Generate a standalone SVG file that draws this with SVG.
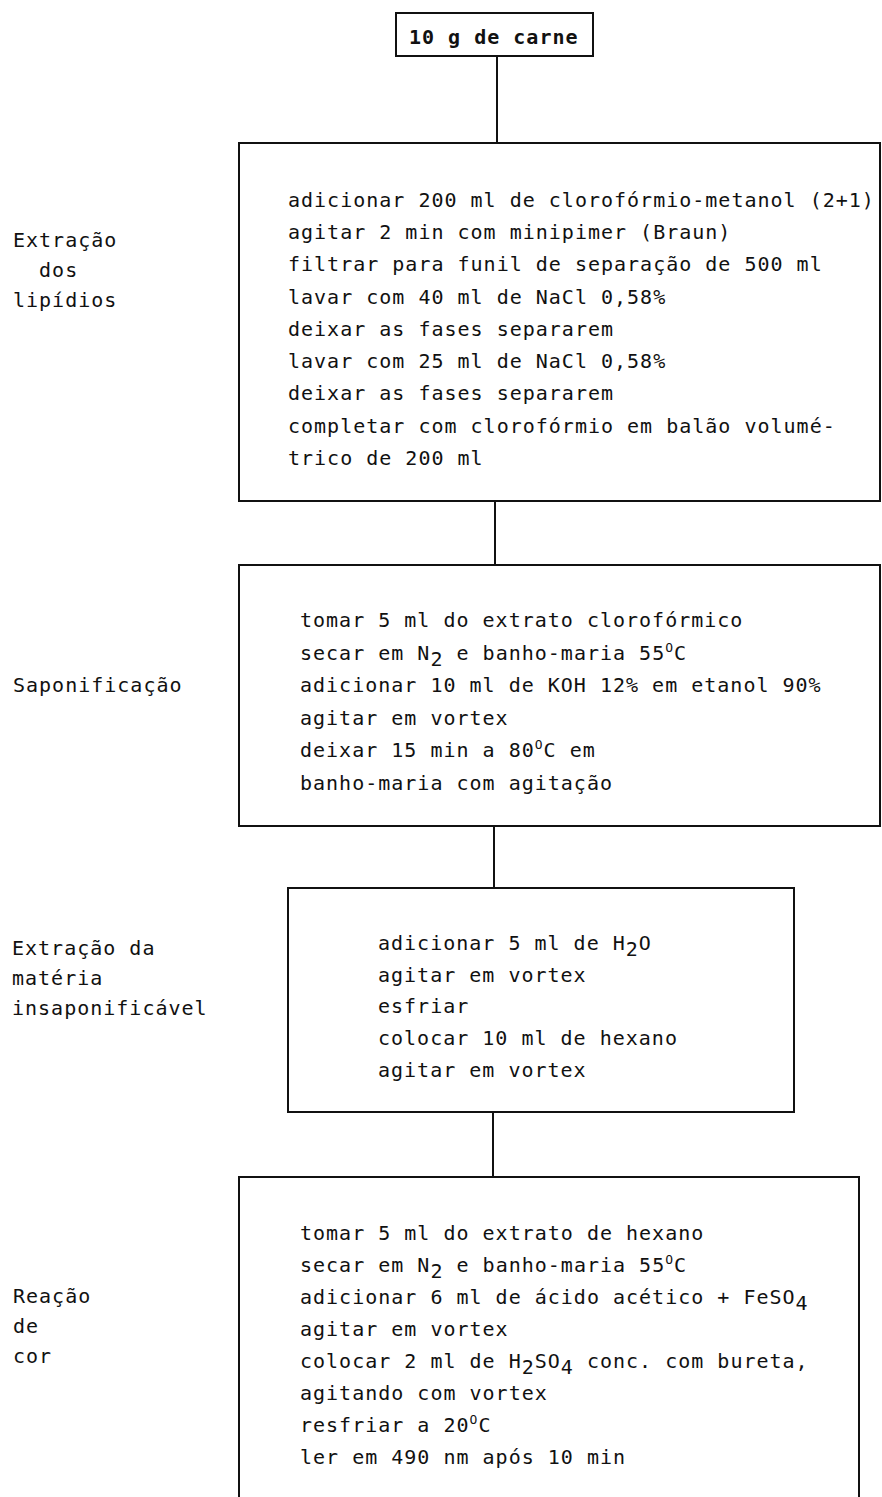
<svg xmlns="http://www.w3.org/2000/svg" width="882" height="1497" viewBox="0 0 882 1497">
<style>
text{font-family:"DejaVu Sans Mono","Liberation Mono",monospace;font-size:20px;letter-spacing:1px;fill:#111;white-space:pre}
.b{font-weight:bold}
.box{fill:none;stroke:#111;stroke-width:2}
.con line{stroke:#111;stroke-width:2}
.sup{font-size:13px}
</style>
<rect width="882" height="1497" fill="#fff"/>
<g class="con" id="connectors">
<line x1="497" y1="56" x2="497" y2="143"/>
<line x1="495" y1="501" x2="495" y2="565"/>
<line x1="494" y1="826" x2="494" y2="888"/>
<line x1="493" y1="1112" x2="493" y2="1177"/>
</g>
<g id="labels">
<text x="13" y="247">Extração</text>
<text x="13" y="277">  dos</text>
<text x="13" y="307">lipídios</text>
<text x="13" y="692">Saponificação</text>
<text x="12" y="955">Extração da</text>
<text x="12" y="985">matéria</text>
<text x="12" y="1015">insaponificável</text>
<text x="13" y="1303">Reação</text>
<text x="13" y="1333">de</text>
<text x="13" y="1363">cor</text>
</g>
<g id="n0">
<rect class="box" x="396" y="13" width="197" height="43"/>
<text class="b" x="409" y="44">10 g de carne</text>
</g>
<g id="n1">
<path class="box" d="M239,143 H880 V501 H239 Z"/>
<text x="288" y="207">adicionar 200 ml de clorofórmio-metanol (2+1)</text>
<text x="288" y="239">agitar 2 min com minipimer (Braun)</text>
<text x="288" y="271">filtrar para funil de separação de 500 ml</text>
<text x="288" y="304">lavar com 40 ml de NaCl 0,58%</text>
<text x="288" y="336">deixar as fases separarem</text>
<text x="288" y="368">lavar com 25 ml de NaCl 0,58%</text>
<text x="288" y="400">deixar as fases separarem</text>
<text x="288" y="433">completar com clorofórmio em balão volumé-</text>
<text x="288" y="465">trico de 200 ml</text>
</g>
<g id="n2">
<path class="box" d="M239,565 H880 V826 H239 Z"/>
<text x="300" y="627">tomar 5 ml do extrato clorofórmico</text>
<text x="300" y="660">secar em N<tspan dy="6">2</tspan><tspan dy="-6"> e banho-maria 55</tspan><tspan class="sup" dy="-8">O</tspan><tspan dy="8">C</tspan></text>
<text x="300" y="692">adicionar 10 ml de KOH 12% em etanol 90%</text>
<text x="300" y="725">agitar em vortex</text>
<text x="300" y="757">deixar 15 min a 80<tspan class="sup" dy="-8">O</tspan><tspan dy="8">C em</tspan></text>
<text x="300" y="790">banho-maria com agitação</text>
</g>
<g id="n3">
<rect class="box" x="288" y="888" width="506" height="224"/>
<text x="378" y="950">adicionar 5 ml de H<tspan dy="6">2</tspan><tspan dy="-6">O</tspan></text>
<text x="378" y="982">agitar em vortex</text>
<text x="378" y="1013">esfriar</text>
<text x="378" y="1045">colocar 10 ml de hexano</text>
<text x="378" y="1077">agitar em vortex</text>
</g>
<g id="n4">
<path class="box" d="M239,1500 V1177 H859 V1500"/>
<text x="300" y="1240">tomar 5 ml do extrato de hexano</text>
<text x="300" y="1272">secar em N<tspan dy="6">2</tspan><tspan dy="-6"> e banho-maria 55</tspan><tspan class="sup" dy="-8">O</tspan><tspan dy="8">C</tspan></text>
<text x="300" y="1304">adicionar 6 ml de ácido acético + FeSO<tspan dy="6">4</tspan></text>
<text x="300" y="1336">agitar em vortex</text>
<text x="300" y="1368">colocar 2 ml de H<tspan dy="6">2</tspan><tspan dy="-6">SO</tspan><tspan dy="6">4</tspan><tspan dy="-6"> conc. com bureta,</tspan></text>
<text x="300" y="1400">agitando com vortex</text>
<text x="300" y="1432">resfriar a 20<tspan class="sup" dy="-8">O</tspan><tspan dy="8">C</tspan></text>
<text x="300" y="1464">ler em 490 nm após 10 min</text>
</g>
</svg>
